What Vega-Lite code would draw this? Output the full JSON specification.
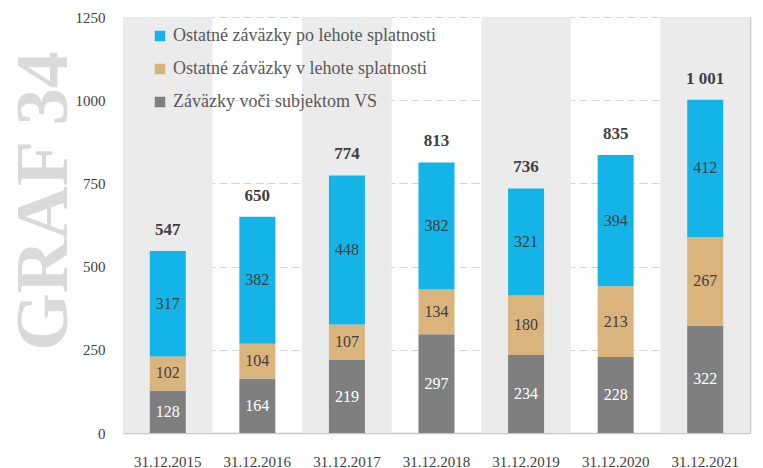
{
  "$schema": "https://vega.github.io/schema/vega-lite/v6.json",
  "autosize": "none",
  "width": 627,
  "height": 416,
  "padding": {"left": 123, "top": 17, "right": 13, "bottom": 35},
  "background": "white",
  "config": {
    "font": "Liberation Serif",
    "view": {"stroke": null}
  },
  "title": {
    "text": "GRAF 34",
    "orient": "left",
    "anchor": "middle",
    "fontSize": 74,
    "fontWeight": "bold",
    "color": "#dadada",
    "font": "Liberation Serif",
    "offset": -8,
    "dx": 24
  },
  "datasets": {
    "bars": [
      {"date": "31.12.2015", "serie": "Záväzky voči subjektom VS", "value": 128},
      {"date": "31.12.2015", "serie": "Ostatné záväzky v lehote splatnosti", "value": 102},
      {"date": "31.12.2015", "serie": "Ostatné záväzky po lehote splatnosti", "value": 317},
      {"date": "31.12.2016", "serie": "Záväzky voči subjektom VS", "value": 164},
      {"date": "31.12.2016", "serie": "Ostatné záväzky v lehote splatnosti", "value": 104},
      {"date": "31.12.2016", "serie": "Ostatné záväzky po lehote splatnosti", "value": 382},
      {"date": "31.12.2017", "serie": "Záväzky voči subjektom VS", "value": 219},
      {"date": "31.12.2017", "serie": "Ostatné záväzky v lehote splatnosti", "value": 107},
      {"date": "31.12.2017", "serie": "Ostatné záväzky po lehote splatnosti", "value": 448},
      {"date": "31.12.2018", "serie": "Záväzky voči subjektom VS", "value": 297},
      {"date": "31.12.2018", "serie": "Ostatné záväzky v lehote splatnosti", "value": 134},
      {"date": "31.12.2018", "serie": "Ostatné záväzky po lehote splatnosti", "value": 382},
      {"date": "31.12.2019", "serie": "Záväzky voči subjektom VS", "value": 234},
      {"date": "31.12.2019", "serie": "Ostatné záväzky v lehote splatnosti", "value": 180},
      {"date": "31.12.2019", "serie": "Ostatné záväzky po lehote splatnosti", "value": 321},
      {"date": "31.12.2020", "serie": "Záväzky voči subjektom VS", "value": 228},
      {"date": "31.12.2020", "serie": "Ostatné záväzky v lehote splatnosti", "value": 213},
      {"date": "31.12.2020", "serie": "Ostatné záväzky po lehote splatnosti", "value": 394},
      {"date": "31.12.2021", "serie": "Záväzky voči subjektom VS", "value": 322},
      {"date": "31.12.2021", "serie": "Ostatné záväzky v lehote splatnosti", "value": 267},
      {"date": "31.12.2021", "serie": "Ostatné záväzky po lehote splatnosti", "value": 412}
    ],
    "totals": [
      {"date": "31.12.2015", "total": 547, "label": "547"},
      {"date": "31.12.2016", "total": 650, "label": "650"},
      {"date": "31.12.2017", "total": 774, "label": "774"},
      {"date": "31.12.2018", "total": 813, "label": "813"},
      {"date": "31.12.2019", "total": 736, "label": "736"},
      {"date": "31.12.2020", "total": 835, "label": "835"},
      {"date": "31.12.2021", "total": 1001, "label": "1 001"}
    ],
    "shade": [
      {"date": "31.12.2015"},
      {"date": "31.12.2017"},
      {"date": "31.12.2019"},
      {"date": "31.12.2021"}
    ]
  },
  "encoding": {
    "x": {
      "field": "date",
      "type": "nominal",
      "sort": null,
      "scale": {
        "domain": ["31.12.2015", "31.12.2016", "31.12.2017", "31.12.2018", "31.12.2019", "31.12.2020", "31.12.2021"],
        "paddingInner": 0,
        "paddingOuter": 0
      },
      "axis": {
        "title": null,
        "labelAngle": 0,
        "labelFontSize": 15,
        "labelColor": "#404040",
        "labelPadding": 21,
        "ticks": false,
        "domain": true,
        "domainColor": "#c8c8c8",
        "domainWidth": 1.5
      }
    }
  },
  "layer": [
    {
      "data": {"name": "shade"},
      "mark": {"type": "bar", "color": "#ebebeb", "width": {"band": 1}},
      "encoding": {
        "y": {"datum": 1250, "type": "quantitative", "scale": {"domain": [0, 1250], "nice": false},
          "axis": {
            "title": null,
            "values": [0, 250, 500, 750, 1000, 1250],
            "format": "d",
            "labelFontSize": 15,
            "labelColor": "#404040",
            "labelPadding": 18,
            "ticks": false,
            "domain": false,
            "grid": true,
            "gridColor": "#d4d4d4",
            "gridDash": [8, 4],
            "gridWidth": 1.2
          }
        }
      }
    },
    {
      "data": {"name": "bars"},
      "mark": {"type": "bar", "width": 36},
      "encoding": {
        "y": {"field": "value", "type": "quantitative", "stack": "zero", "axis": null},
        "order": {"field": "serie", "sort": "descending"},
        "color": {
          "field": "serie",
          "type": "nominal",
          "scale": {
            "domain": ["Ostatné záväzky po lehote splatnosti", "Ostatné záväzky v lehote splatnosti", "Záväzky voči subjektom VS"],
            "range": ["#14b4e9", "#dab47c", "#7f7f7f"]
          },
          "legend": {
            "title": null,
            "orient": "none",
            "legendX": 28,
            "legendY": 10,
            "symbolType": "square",
            "symbolSize": 110,
            "symbolStrokeWidth": 0,
            "symbolOpacity": 1,
            "labelFontSize": 18,
            "labelColor": "#595959",
            "labelOffset": 4,
            "rowPadding": 15,
            "labelLimit": 400
          }
        }
      }
    },
    {
      "data": {"name": "bars"},
      "transform": [
        {"stack": "value", "groupby": ["date"], "sort": [{"field": "serie", "order": "descending"}], "as": ["y0", "y1"]},
        {"calculate": "(datum.y0 + datum.y1) / 2", "as": "mid"}
      ],
      "mark": {"type": "text", "fontSize": 16, "baseline": "middle"},
      "encoding": {
        "y": {"field": "mid", "type": "quantitative", "axis": null},
        "text": {"field": "value", "type": "quantitative"},
        "color": {
          "condition": {"test": "datum.serie === 'Záväzky voči subjektom VS'", "value": "#ffffff"},
          "value": "#404040"
        }
      }
    },
    {
      "data": {"name": "totals"},
      "mark": {"type": "text", "fontSize": 17, "fontWeight": "bold", "color": "#404040", "baseline": "alphabetic", "dy": -16},
      "encoding": {
        "y": {"field": "total", "type": "quantitative", "axis": null},
        "text": {"field": "label", "type": "nominal"}
      }
    },
    {
      "data": {"name": "shade"},
      "mark": {"type": "bar", "opacity": 0},
      "encoding": {
        "y": {"datum": 0, "type": "quantitative",
          "axis": {"orient": "right", "title": null, "labels": false, "values": [], "ticks": false, "grid": false, "domain": true, "domainColor": "#c8c8c8", "domainWidth": 1.5}
        }
      }
    }
  ],
  "resolve": {"axis": {"y": "independent"}}
}
